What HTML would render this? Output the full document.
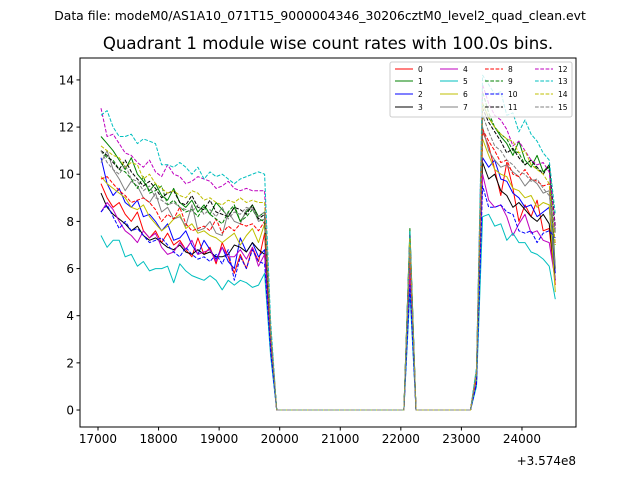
<!DOCTYPE html>
<html><head><meta charset="utf-8"><style>
body{margin:0;background:#fff;}
svg{display:block;font-family:"DejaVu Sans","Liberation Sans",sans-serif;}
</style></head><body>
<svg id="chart" width="640" height="480" xmlns="http://www.w3.org/2000/svg">
<rect width="640" height="480" fill="#fff"/>
<text x="320" y="20" font-size="12.4" text-anchor="middle">Data file: modeM0/AS1A10_071T15_9000004346_30206cztM0_level2_quad_clean.evt</text>
<text x="328" y="49" font-size="16.6" text-anchor="middle">Quadrant 1 module wise count rates with 100.0s bins.</text>
<g id="plot"></g>
<g id="axes"></g>
<g id="legend"></g>
<text x="576" y="465" font-size="12" text-anchor="end">+3.574e8</text>
</svg>
<script>
const L=[
[9.6,9.0,8.6,8.8,8.3,8.0,8.4,7.6,7.3,7.6,7.1,7.5,7.0,7.2,6.8,6.5,7.3,6.6,6.9,6.2,7.1,6.5,5.8,6.6,6.0,6.9,6.3,7.5],
[11.6,11.3,11.0,10.6,10.2,10.7,10.0,9.7,9.3,9.6,9.1,8.9,9.4,8.8,8.6,8.9,8.4,8.7,8.3,8.8,8.5,8.2,8.6,8.0,8.4,8.7,8.2,8.4],
[10.7,9.6,9.1,9.4,8.8,8.6,8.9,8.2,8.3,8.0,7.6,7.9,7.2,7.3,7.6,7.0,6.6,7.2,6.8,6.4,6.9,6.3,6.0,7.3,6.7,7.1,6.5,6.8],
[9.2,8.6,8.3,8.1,7.9,7.6,7.8,7.4,7.2,7.3,7.1,6.9,6.8,7.0,6.7,6.6,6.8,6.6,6.7,6.5,6.5,6.6,7.0,6.9,6.7,7.1,6.8,6.6],
[8.4,8.8,8.5,8.0,7.6,7.4,7.1,7.6,7.3,7.5,6.9,6.6,6.7,7.1,6.8,7.2,6.6,6.7,6.8,6.3,6.9,6.5,6.5,6.8,6.4,6.9,6.1,6.6],
[7.4,6.9,7.2,7.2,6.5,6.6,6.1,6.3,5.9,6.0,6.0,6.1,5.4,6.2,5.9,5.7,5.6,5.5,5.7,5.5,5.1,5.5,5.3,5.5,5.4,5.2,5.3,5.8],
[9.9,9.6,9.4,9.2,9.0,8.6,8.5,8.7,8.2,7.9,7.6,7.8,8.1,8.3,7.7,7.9,7.5,7.6,7.4,7.3,7.1,7.3,7.5,7.0,7.4,7.7,7.1,7.9],
[10.5,11.0,10.2,9.8,9.3,9.7,9.5,9.0,8.8,9.2,8.4,8.6,8.1,8.2,7.8,8.7,7.6,7.7,8.0,7.5,7.4,8.4,8.0,7.9,8.5,8.6,8.0,8.1],
[9.8,9.9,9.6,9.3,9.1,8.8,8.9,9.0,8.8,8.5,8.0,8.3,8.1,8.6,7.9,7.6,7.7,7.8,7.6,8.1,7.5,7.8,7.6,7.9,7.8,7.9,7.6,8.0],
[11.0,10.7,10.6,10.2,10.1,9.8,9.4,9.9,9.2,9.3,9.5,8.7,8.9,8.6,8.4,8.5,8.2,8.6,8.3,8.1,7.9,8.4,8.7,8.0,8.2,8.5,8.1,8.0],
[8.4,8.7,8.2,7.7,8.0,7.6,7.7,7.4,7.1,7.2,7.3,7.0,6.7,6.5,6.9,6.6,6.4,6.5,6.3,6.6,6.2,6.8,5.5,6.5,6.0,6.8,6.3,6.2],
[11.0,10.8,10.5,10.2,10.6,10.1,9.8,9.5,9.7,9.4,9.0,9.2,9.3,8.8,8.7,9.1,8.6,8.5,8.9,8.4,8.3,8.2,8.6,8.5,8.3,8.7,8.1,8.3],
[12.8,11.6,11.7,11.3,10.9,10.8,10.5,10.3,10.6,10.1,9.9,10.4,10.0,9.9,9.6,9.7,9.9,9.8,9.7,9.4,9.5,9.7,9.4,9.3,9.4,9.3,9.3,9.3],
[12.5,12.7,12.0,11.6,11.6,11.7,11.3,11.5,11.4,11.3,10.4,10.4,10.3,10.5,10.3,10.0,10.3,9.8,10.1,9.9,10.0,9.8,9.6,9.8,9.9,10.0,10.1,10.0],
[11.2,11.0,10.8,10.7,10.3,10.5,10.4,9.8,10.0,9.6,9.4,9.2,9.3,9.1,9.0,9.3,9.2,8.9,9.0,8.8,8.7,8.9,8.8,9.0,8.8,8.9,8.8,8.8],
[11.0,10.5,10.2,10.0,10.4,9.8,9.7,9.3,9.5,9.0,8.9,8.7,8.8,8.6,8.5,8.4,8.7,8.3,8.5,8.2,8.6,8.1,8.4,8.3,8.6,8.5,8.2,8.4]];
const R=[
[11.8,11.2,10.2,9.1,10.5,9.4,8.0,8.7,8.2,8.9,7.6,7.7,5.3],
[13.0,12.4,12.0,11.6,11.3,10.8,11.4,10.6,10.3,10.8,10.1,10.4,6.0],
[10.7,10.3,10.6,9.8,9.7,9.2,9.0,8.6,8.7,8.2,8.4,8.6,5.8],
[10.5,9.8,10.0,9.3,9.1,8.6,8.8,8.5,8.2,8.0,8.3,7.9,5.5],
[10.0,8.9,8.6,8.7,8.2,7.4,7.9,8.3,7.5,7.6,7.2,7.1,5.5],
[8.2,8.3,7.8,7.9,7.2,7.5,7.1,7.1,6.7,6.6,6.4,6.1,4.7],
[11.5,10.8,10.2,10.0,9.9,9.4,9.3,9.0,9.1,8.6,8.8,8.7,5.0],
[12.0,11.0,10.6,10.3,10.4,10.1,9.9,9.5,9.8,9.6,9.2,9.3,6.0],
[11.9,11.4,11.0,10.5,10.6,10.0,9.9,10.2,9.8,9.7,9.5,9.6,7.0],
[13.5,12.6,12.0,11.7,11.5,11.0,10.9,10.4,10.6,10.2,10.1,10.3,7.5],
[9.5,8.6,8.6,8.7,8.4,8.3,7.6,7.5,7.6,7.1,7.5,7.6,7.3],
[12.8,12.2,11.8,11.4,10.9,11.1,10.7,10.4,10.6,10.3,10.0,10.4,7.8],
[13.8,13.0,12.5,12.3,11.9,11.2,11.4,11.0,10.6,10.4,10.5,10.1,7.7],
[14.2,13.8,13.4,13.5,12.5,12.6,11.8,12.3,11.7,11.4,10.9,10.6,8.3],
[13.0,12.4,12.0,11.7,11.5,11.4,10.9,11.0,10.4,10.2,10.0,9.6,7.0],
[12.5,11.8,11.2,11.0,10.6,10.4,10.1,10.0,9.7,9.8,9.4,9.1,7.5]];
const dropVals=[2.8,3.4,2.9,3.0,2.6,2.3,3.2,3.3,3.1,3.3,2.5,3.4,3.5,3.8,3.4,3.3];
const spikeVals=[6.5,7.7,6.0,7.0,5.8,5.0,7.2,6.8,6.6,7.6,5.3,7.4,7.5,7.6,7.3,6.9];
const riseVals=[1.3,1.6,1.2,1.3,1.2,1.0,1.4,1.5,1.4,1.7,1.1,1.6,1.7,1.8,1.6,1.5];
const xTicks=[17000,18000,19000,20000,21000,22000,23000,24000];
const yTicks=[0,2,4,6,8,10,12,14];
const labels=["0","1","2","3","4","5","6","7","8","9","10","11","12","13","14","15"];
const colors=["#ff0000","#008000","#0000ff","#000000","#bf00bf","#00bfbf","#bfbf00","#808080"];

const NS="http://www.w3.org/2000/svg";
const X0=80,X1=576,Y0=58,Y1=427;
const xmin=16703,xmax=24892,ymin=-0.72,ymax=14.93;
const sx=v=>X0+(v-xmin)/(xmax-xmin)*(X1-X0);
const sy=v=>Y1-(v-ymin)/(ymax-ymin)*(Y1-Y0);
function mk(tag,attrs,parent){const e=document.createElementNS(NS,tag);for(const k in attrs)e.setAttribute(k,attrs[k]);parent.appendChild(e);return e;}
const plot=document.getElementById('plot'),axes=document.getElementById('axes'),leg=document.getElementById('legend');

for(let s=0;s<16;s++){
  const vals=[].concat(L[s],[dropVals[s]],new Array(22).fill(0),[spikeVals[s]],new Array(10).fill(0),[riseVals[s]],R[s]);
  const pts=vals.map((v,i)=>sx(17050+100*i).toFixed(1)+","+sy(v).toFixed(1)).join(" ");
  const p=mk('polyline',{points:pts,fill:'none',stroke:colors[s%8],'stroke-width':1,'stroke-linejoin':'round'},plot);
  if(s>=8)p.setAttribute('stroke-dasharray','3.7,1.6');
  
  
}
const frame=mk('rect',{x:X0,y:Y0,width:X1-X0,height:Y1-Y0,fill:'none',stroke:'#000','stroke-width':1},axes);


xTicks.forEach(t=>{
  const x=sx(t);
  mk('line',{x1:x,y1:Y1,x2:x,y2:Y1+3.5,stroke:'#000'},axes);
  const tx=mk('text',{x:x,y:Y1+16,'font-size':12,'text-anchor':'middle'},axes);
  tx.textContent=t;
  
  
});
yTicks.forEach(t=>{
  const y=sy(t);
  mk('line',{x1:X0-3.5,y1:y,x2:X0,y2:y,stroke:'#000'},axes);
  const tx=mk('text',{x:X0-6,y:y+4.5,'font-size':12,'text-anchor':'end'},axes);
  tx.textContent=t;
  
  
});
const lb=mk('rect',{x:390,y:62,width:182,height:55,fill:'#fff','fill-opacity':0.8,stroke:'#ccc','stroke-width':1,rx:2},leg);


const colX=[395,440,485,535],rowY=[69,81,94,107];
for(let s=0;s<16;s++){
  const c=Math.floor(s/4),r=s%4,x=colX[c],y=rowY[r];
  const ln=mk('line',{x1:x,y1:y,x2:x+18,y2:y,stroke:colors[s%8],'stroke-width':1},leg);
  if(s>=8)ln.setAttribute('stroke-dasharray','3.7,1.6');
  
  
  const tx=mk('text',{x:x+23,y:y+3,'font-size':7.5},leg);
  tx.textContent=labels[s];
  
  
}
</script>
</body></html>
